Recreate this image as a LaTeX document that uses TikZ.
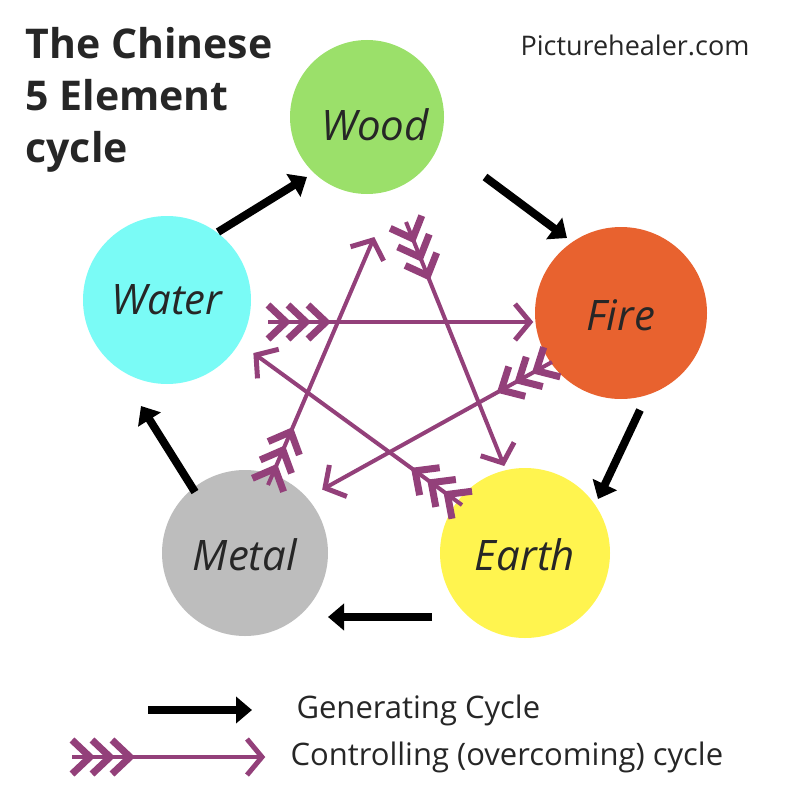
\documentclass[tikz,border=0pt]{standalone}
\usepackage{fontspec}
\setmainfont{Open Sans}
\usetikzlibrary{arrows.meta,decorations.markings}
\definecolor{wood}{HTML}{9BE06A}
\definecolor{fire}{HTML}{E8622F}
\definecolor{earth}{HTML}{FFF44F}
\definecolor{metal}{HTML}{BDBDBD}
\definecolor{water}{HTML}{7AFBF6}
\definecolor{ctl}{HTML}{93407A}
\begin{document}
\begin{tikzpicture}[x=1pt,y=-1pt,
  el/.style={circle,draw=none,inner sep=0pt},
  lab/.style={font=\fontsize{42}{42}\selectfont\rmfamily\itshape, text=black!85},
  chev/.style={ctl,line width=7pt,miter limit=10},
  gen/.style={line width=8pt,black,-{Triangle[length=16pt,width=26pt]}},
  ctrl/.style={ctl,line width=4pt,postaction={decorate},decoration={markings,
    mark=at position 12pt with {\draw[chev] (-12,17)--(6,0)--(-12,-17);},
    mark=at position 32pt with {\draw[chev] (-12,17)--(6,0)--(-12,-17);},
    mark=at position 52pt with {\draw[chev] (-12,17)--(6,0)--(-12,-17);},
    mark=at position 1 with {\draw[ctl,line width=5pt,line cap=butt,miter limit=10] (-15,18)--(0,0)--(-15,-18);}}}
]
\useasboundingbox (0,0) rectangle (800,800);
\node[el,fill=wood,minimum size=154pt] (wood) at (367,117) {};
\node[el,fill=fire,minimum size=172pt] (fire) at (621,313) {};
\node[el,fill=earth,minimum size=170pt] (earth) at (525,553) {};
\node[el,fill=metal,minimum size=166pt] (metal) at (245,553) {};
\node[el,fill=water,minimum size=168pt] (water) at (167,300) {};
\node[lab] (lw) at (375,125) {Wood};
\node[lab] (lf) at (621,315) {Fire};
\node[lab] (le) at (525,555) {Earth};
\node[lab] (lm) at (245,555) {Metal};
\node[lab] (lwa) at (167,300) {Water};
% control arrows
\coordinate (c1a) at (406,222); \coordinate (c1b) at (503,463);
\coordinate (c2a) at (268,322); \coordinate (c2b) at (530,322);
\coordinate (c3a) at (462,505); \coordinate (c3b) at (256,355);
\coordinate (c4a) at (552,362); \coordinate (c4b) at (325,488);
\coordinate (c5a) at (268,485); \coordinate (c5b) at (373,240);
\draw[ctrl] (c1a)--(c1b);
\draw[ctrl] (c2a)--(c2b);
\draw[ctrl] (c3a)--(c3b);
\draw[ctrl] (c4a)--(c4b);
\draw[ctrl] (c5a)--(c5b);
% generating arrows
\coordinate (g1a) at (485,177); \coordinate (g1b) at (567,238);
\coordinate (g2a) at (640,410); \coordinate (g2b) at (598,499);
\coordinate (g3a) at (432,617); \coordinate (g3b) at (328,617);
\coordinate (g4a) at (195,492); \coordinate (g4b) at (141,406);
\coordinate (g5a) at (218,232); \coordinate (g5b) at (307,177);
\draw[gen] (g1a)--(g1b);
\draw[gen] (g2a)--(g2b);
\draw[gen] (g3a)--(g3b);
\draw[gen] (g4a)--(g4b);
\draw[gen] (g5a)--(g5b);
% titles
\node[anchor=west,align=left,font=\fontsize{41}{52}\selectfont\bfseries,text=black!85] (title) at (22,100) {The Chinese\\5 Element\\cycle};
\node[font=\fontsize{27}{27}\selectfont,text=black!85] (site) at (635,45) {Picturehealer.com};
% legend
\coordinate (l1a) at (148,710); \coordinate (l1b) at (252,710);
\coordinate (l2a) at (72,757); \coordinate (l2b) at (262,757);
\draw[gen] (l1a)--(l1b);
\draw[ctrl] (l2a)--(l2b);
\node[anchor=west,font=\fontsize{31}{31}\selectfont,text=black!85] (t1) at (293,710) {Generating Cycle};
\node[anchor=west,font=\fontsize{31}{31}\selectfont,text=black!85] (t2) at (287,757) {Controlling (overcoming) cycle};
\end{tikzpicture}
\end{document}
